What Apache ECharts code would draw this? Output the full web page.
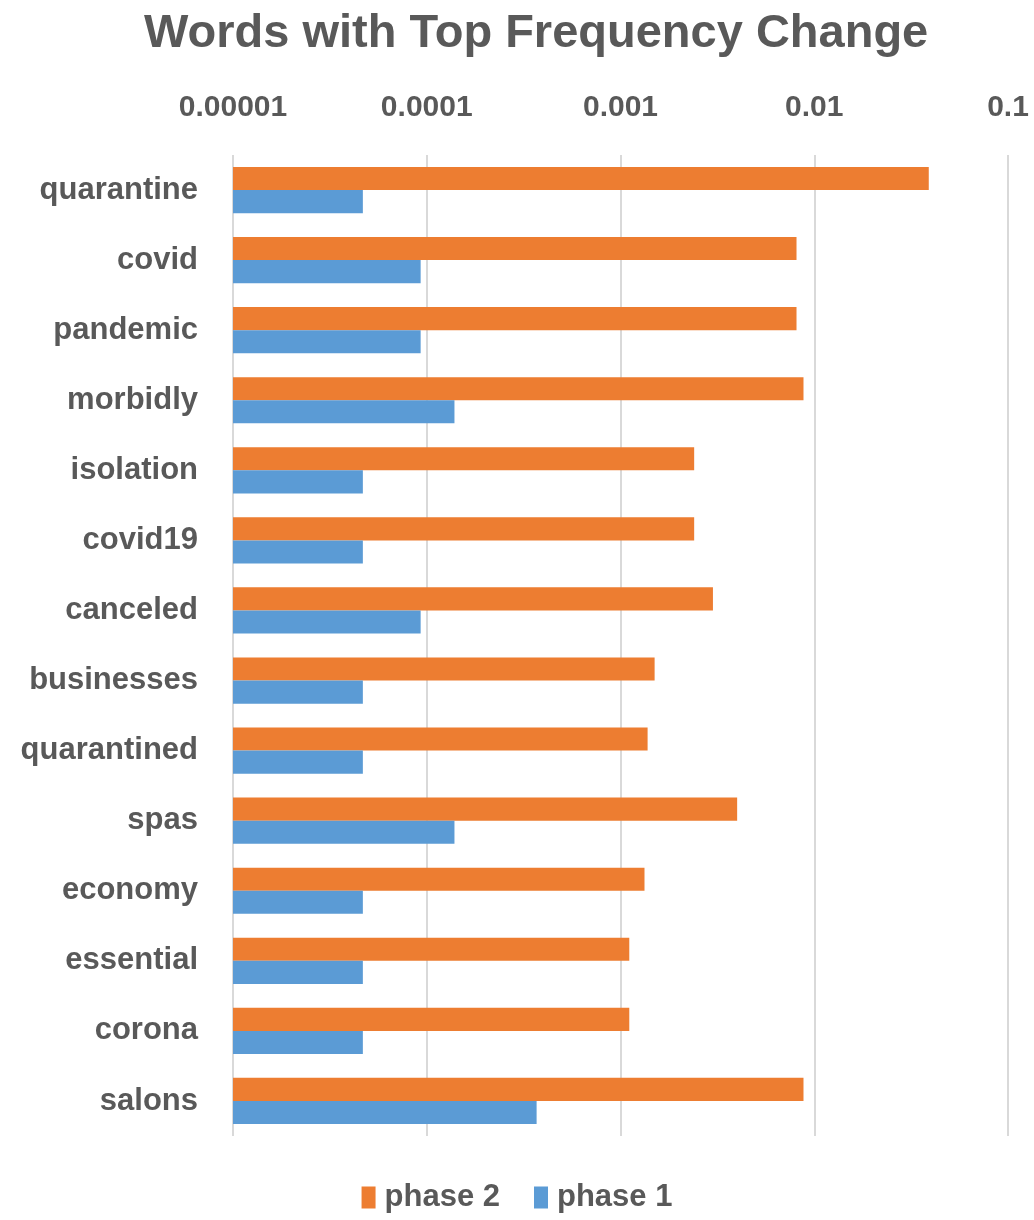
<!DOCTYPE html>
<html>
<head>
<meta charset="utf-8">
<script src="https://cdn.jsdelivr.net/npm/echarts@6/dist/echarts.min.js"></script>
<style>html,body{margin:0;padding:0;background:#fff}#c{width:1034px;height:1220px}</style>
</head>
<body>
<div id="c"></div>
<script>
const categories = ['quarantine','covid','pandemic','morbidly','isolation','covid19','canceled','businesses','quarantined','spas','economy','essential','corona','salons'];
const phase2 = [0.039,0.0081,0.0081,0.0088,0.0024,0.0024,0.0030,0.0015,0.00138,0.0040,0.00133,0.00111,0.00111,0.0088];
const phase1 = [0.0000468,0.000093,0.000093,0.000139,0.0000468,0.0000468,0.000093,0.0000468,0.0000468,0.000139,0.0000468,0.0000468,0.0000468,0.000369];
const tickLabels = ['0.00001','0.0001','0.001','0.01','0.1'];
const FONT = '"Liberation Sans", sans-serif';
const GREY = '#595959';

const chart = echarts.init(document.getElementById('c'));
chart.setOption({
  animation: false,
  title: {
    text: 'Words with Top Frequency Change',
    left: 139, top: 6,
    textStyle: { fontFamily: FONT, fontSize: 47, fontWeight: 'bold', color: GREY }
  },
  legend: {
    bottom: 2, left: 'center',
    itemWidth: 14, itemHeight: 22, itemGap: 34,
    icon: 'rect',
    textStyle: { fontFamily: FONT, fontSize: 31, fontWeight: 'bold', color: GREY, padding: [0, 0, 0, 4] },
    data: ['phase 2', 'phase 1']
  },
  grid: { left: 233, right: 26, top: 155, bottom: 84, containLabel: false },
  xAxis: {
    type: 'log', logBase: 10, min: 0.00001, max: 0.1, startValue: 0.00001,
    position: 'top',
    axisLine: { show: false }, axisTick: { show: false },
    splitLine: { show: true, lineStyle: { color: '#d9d9d9', width: 2 } },
    minorSplitLine: { show: false },
    axisLabel: {
      margin: 32,
      fontFamily: FONT, fontSize: 30, fontWeight: 'bold', color: GREY,
      formatter: v => tickLabels[Math.round(Math.log10(v) + 5)] ?? ''
    }
  },
  yAxis: {
    type: 'category', data: categories, inverse: true,
    axisLine: { show: false }, axisTick: { show: false },
    axisLabel: { margin: 35, fontFamily: FONT, fontSize: 31, fontWeight: 'bold', color: GREY }
  },
  series: [
    { name: 'phase 2', type: 'bar', data: phase2, barGap: '0%', barCategoryGap: '34%', itemStyle: { color: '#ED7D31' } },
    { name: 'phase 1', type: 'bar', data: phase1, barGap: '0%', barCategoryGap: '34%', itemStyle: { color: '#5B9BD5' } }
  ]
});
</script>
</body>
</html>
